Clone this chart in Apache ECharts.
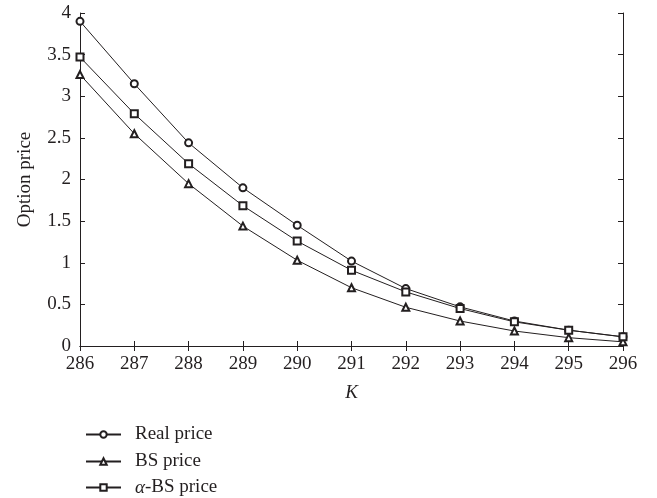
<!DOCTYPE html>
<html><head><meta charset="utf-8">
<script src="https://cdn.jsdelivr.net/npm/echarts@6/dist/echarts.min.js"></script>
<style>html,body{margin:0;padding:0;background:#fff}#c{width:657px;height:498px}</style>
</head><body><div id="c"></div>
<script>
var strikes = [286, 287, 288, 289, 290, 291, 292, 293, 294, 295, 296];
var realPrice = [3.90, 3.15, 2.44, 1.90, 1.45, 1.02, 0.69, 0.47, 0.30, 0.19, 0.11];
var bsPrice = [3.26, 2.55, 1.95, 1.44, 1.03, 0.70, 0.465, 0.30, 0.18, 0.10, 0.05];
var alphaBsPrice = [3.47, 2.79, 2.19, 1.685, 1.26, 0.91, 0.65, 0.45, 0.29, 0.19, 0.11];
var seriesNames = ['Real price', 'BS price', 'α-BS price'];

function pairs(v){ return strikes.map(function(k,i){ return [k, v[i]]; }); }
var font = 'Liberation Serif';
var ink = '#231f20';
var chart = echarts.init(document.getElementById('c'), null, {renderer:'canvas'});
var axisCommon = {
  axisLine:{show:true, lineStyle:{color:ink, width:1}},
  axisTick:{show:true, inside:true, length:5, lineStyle:{color:ink}},
  splitLine:{show:false}
};
function mkSeries(name, data, sym){
  return {name:name, type:'line', data:pairs(data), smooth:false,
    symbol:sym, symbolSize:7, showSymbol:true,
    lineStyle:{color:ink, width:1},
    itemStyle:{color:ink, borderColor:ink, borderWidth:1},
    emphasis:{disabled:true}};
}
function mkLegend(name, centerY){
  return {orient:'vertical', left:80, top:centerY-13, itemWidth:35, itemHeight:8, itemGap:0,
    data:[name], selectedMode:false,
    textStyle:{fontFamily:font, fontSize:19, color:ink, padding:[0,0,0,9],
      rich:{a:{fontFamily:font, fontStyle:'italic', fontSize:19, color:ink},
            n:{fontFamily:font, fontSize:19, color:ink}}},
    formatter:function(n){ if(n.charAt(0)==='α'){ return '{a|α}{n|'+n.slice(1)+'}'; } return n; }
  };
}
chart.setOption({
  animation:false,
  backgroundColor:'#fff',
  grid:{left:80, right:34, top:13, bottom:152},
  legend:[mkLegend(seriesNames[0], 433), mkLegend(seriesNames[1], 460), mkLegend(seriesNames[2], 486)],
  xAxis:[
    Object.assign({type:'value', min:286, max:296, interval:1, position:'bottom',
      name:'K', nameLocation:'middle', nameGap:37,
      nameTextStyle:{fontFamily:font, fontStyle:'italic', fontSize:19, color:ink},
      axisLabel:{fontFamily:font, fontSize:19, color:ink, margin:9}}, axisCommon),
    Object.assign({type:'value', min:286, max:296, interval:1, position:'top',
      axisLabel:{show:false}}, axisCommon)
  ],
  yAxis:[
    Object.assign({type:'value', min:0, max:4, interval:0.5, position:'left',
      name:'Option price', nameLocation:'middle', nameGap:45,
      nameTextStyle:{fontFamily:font, fontSize:19, color:ink},
      axisLabel:{fontFamily:font, fontSize:19, color:ink, margin:9}}, axisCommon),
    Object.assign({type:'value', min:0, max:4, interval:0.5, position:'right',
      axisLabel:{show:false}}, axisCommon)
  ],
  series:[
    mkSeries(seriesNames[0], realPrice, 'emptyCircle'),
    mkSeries(seriesNames[1], bsPrice, 'emptyTriangle'),
    mkSeries(seriesNames[2], alphaBsPrice, 'emptyRect')
  ]
});
</script></body></html>
